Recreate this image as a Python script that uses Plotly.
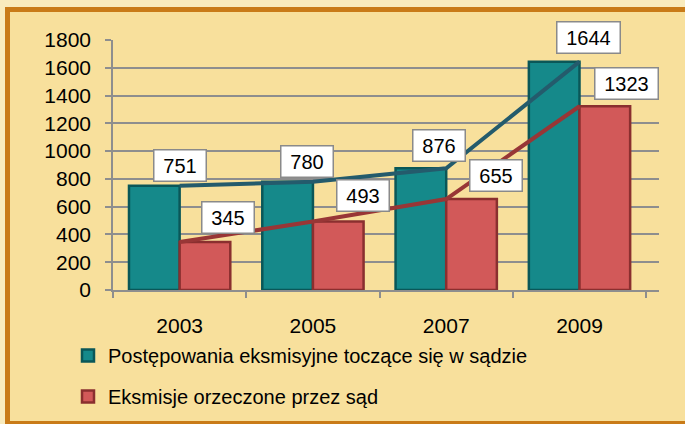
import plotly.graph_objects as go

years = ["2003", "2005", "2007", "2009"]
proceedings = [751, 780, 876, 1644]
evictions = [345, 493, 655, 1323]
y_ticks = [0, 200, 400, 600, 800, 1000, 1200, 1400, 1600, 1800]

name_proc = "Postępowania eksmisyjne toczące się w sądzie"
name_evic = "Eksmisje orzeczone przez sąd"

W, H = 685, 424
L, R, T, B = 113, 26, 40, 134
pw, ph = W - L - R, H - T - B


def px(x):
    return (x - L) / pw


def py(y):
    return (H - B - y) / ph


font = "Liberation Sans, Arial, sans-serif"

fig = go.Figure()
fig.add_bar(x=years, y=proceedings, name=name_proc, legendgroup="a",
            marker=dict(color="#15898a", line=dict(color="#0a5758", width=2.5)))
fig.add_bar(x=years, y=evictions, name=name_evic, legendgroup="b",
            marker=dict(color="#d25959", line=dict(color="#8a2f2f", width=2.5)))
fig.add_scatter(x=years, y=proceedings, mode="lines", showlegend=False,
                line=dict(color="#245b6c", width=4), hoverinfo="skip")
fig.add_scatter(x=years, y=evictions, mode="lines", showlegend=False,
                line=dict(color="#983636", width=4), hoverinfo="skip")

# value boxes, offsets in pixels from each point (x given as category index)
proc_shift = [(0, 20), (-6, 20), (-7, 23), (9, 24)]
evic_shift = [(48, 25), (50, 26), (50, 24), (47, 23)]
for vals, shifts in ((proceedings, proc_shift), (evictions, evic_shift)):
    for i, (v, (dx, dy)) in enumerate(zip(vals, shifts)):
        fig.add_annotation(x=i, y=v, text=str(v), showarrow=False,
                           xshift=dx, yshift=dy, bgcolor="white",
                           bordercolor="#8a8a8a", borderwidth=1.5, borderpad=4,
                           width=11 * len(str(v)) + 10,
                           font=dict(size=20, color="black", family=font))

# frame: light strip on top/left, orange border
shapes = [
    dict(type="rect", xref="paper", yref="paper", x0=px(0), x1=px(W), y0=py(0), y1=py(H),
         fillcolor="#f9ebbd", line_width=0, layer="below"),
    dict(type="rect", xref="paper", yref="paper", x0=px(5), x1=px(W + 5), y0=py(7), y1=py(H + 5),
         fillcolor="#c97b18", line_width=0, layer="below"),
    dict(type="rect", xref="paper", yref="paper", x0=px(10), x1=px(W + 5), y0=py(12), y1=py(421),
         fillcolor="#f8e09c", line_width=0, layer="below"),
]

fig.update_layout(
    width=W, height=H,
    margin=dict(l=L, r=R, t=T, b=B, autoexpand=False),
    paper_bgcolor="#f8e09c", plot_bgcolor="rgba(0,0,0,0)",
    barmode="group", bargap=0.24, bargroupgap=0,
    font=dict(family=font, size=21, color="black"),
    shapes=shapes,
    showlegend=True,
    legend=dict(x=px(68), y=py(336), xanchor="left", yanchor="top",
                orientation="v", bgcolor="rgba(0,0,0,0)", tracegroupgap=12,
                font=dict(size=20), itemwidth=30),
)
fig.update_yaxes(range=[0, 1800], tickvals=y_ticks, showgrid=True, gridcolor="#8e8e8e",
                 gridwidth=1.5, showline=True, linecolor="#8e8e8e", linewidth=1.5,
                 ticks="outside", ticklen=6, tickcolor="#8e8e8e", tickwidth=1.5,
                 zeroline=False, tickfont=dict(size=21), ticklabelstandoff=10,
                 automargin=False)
fig.update_xaxes(type="category", showline=True, linecolor="#8e8e8e", linewidth=1.5,
                 ticks="outside", tickson="boundaries", ticklen=6, tickcolor="#8e8e8e",
                 tickwidth=1.5, tickfont=dict(size=21), showgrid=False,
                 ticklabelstandoff=16, automargin=False)

fig.write_html("out.html", config={"displayModeBar": False},
               post_script="document.body.style.margin='0';")
